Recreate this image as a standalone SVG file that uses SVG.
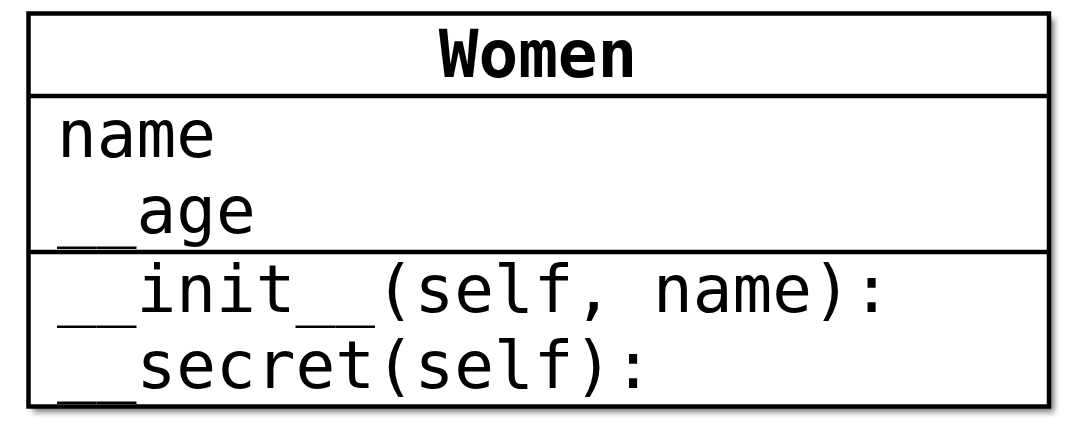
<svg xmlns="http://www.w3.org/2000/svg" width="1072" height="429" viewBox="0 0 1072 429">
<defs>
<filter id="sh" x="-5%" y="-5%" width="115%" height="120%">
<feGaussianBlur stdDeviation="3"/>
</filter>
</defs>
<style>
.t{font-family:"DejaVu Sans Mono",monospace;font-size:66px;fill:#000}
.b{font-weight:bold}
.ln{stroke:#000;stroke-width:4.5;fill:none}
.box{stroke:#000;stroke-width:4.5;fill:#fff}
</style>
<rect width="1072" height="429" fill="#fff"/>
<g id="Women">
<rect x="33" y="19" width="1021" height="393" fill="#000" opacity="0.55" filter="url(#sh)"/>
<rect x="28.5" y="13.5" width="1020.5" height="393" class="box"/>
<line x1="28.5" y1="96" x2="1049" y2="96" class="ln"/>
<line x1="28.5" y1="252" x2="1049" y2="252" class="ln"/>
<text x="538" y="77" text-anchor="middle" class="t b">Women</text>
<text x="57" y="157" class="t">name</text>
<text x="57" y="233" class="t">__age</text>
<text x="57" y="312" class="t">__init__(self, name):</text>
<text x="57" y="388" class="t">__secret(self):</text>
</g>
<g id="connectors"/>
</svg>
